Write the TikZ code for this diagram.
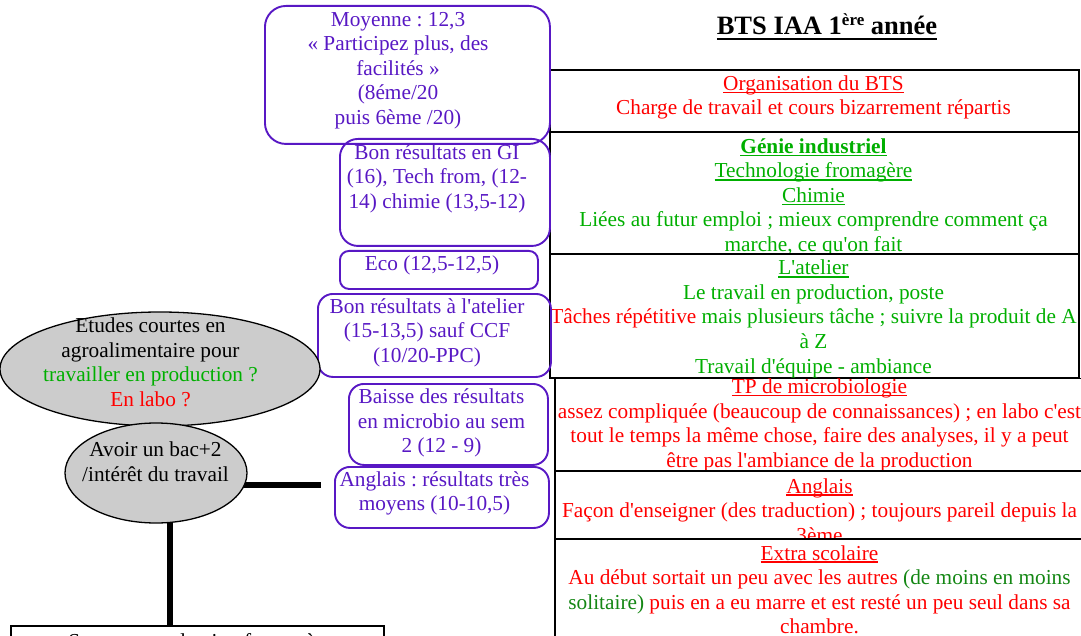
\documentclass[tikz,border=0pt]{standalone}
\usepackage{fontspec}
\usetikzlibrary{shapes.geometric}
\newfontfamily\tnr{Liberation Serif}
\definecolor{pur}{RGB}{88,24,196}
\definecolor{grn}{RGB}{0,175,0}
\definecolor{dgrn}{RGB}{20,135,20}
\definecolor{rd}{RGB}{255,0,0}
\definecolor{ellgray}{RGB}{204,204,204}
\newsavebox\ulbox
\newcommand\ulx[1]{\sbox\ulbox{#1}\rlap{\rule[-2.6pt]{\wd\ulbox}{1.3pt}}\usebox\ulbox}
\newcommand\ulxb[1]{\sbox\ulbox{#1}\rlap{\rule[-5.2pt]{\wd\ulbox}{1.8pt}}\usebox\ulbox}
\newcommand\ls[1]{\begin{tabular}[t]{@{}c@{}}#1\end{tabular}}
\pgfdeclarelayer{bg}
\pgfsetlayers{bg,main}
\tikzset{
  txt/.style={anchor=base, inner sep=0pt, yshift=-1.5pt, font=\tnr\frenchspacing\fontsize{21.3}{24.5}\selectfont},
  bbox/.style={draw=black, line width=1.6pt, fill=white, inner sep=0pt, anchor=north west},
  pbox/.style={draw=pur, line width=1.9pt, rounded corners=15pt, inner sep=0pt, anchor=north west},
  ellnode/.style={ellipse, draw=black, line width=1.3pt, fill=ellgray, inner sep=0pt},
  thickline/.style={line width=6.5pt}
}
\begin{document}
\begin{tikzpicture}[x=1pt,y=-1pt]
\useasboundingbox (0,0) rectangle (1081,636);
\clip (0,0) rectangle (1081,636);

% title
\node[txt, font=\tnr\bfseries\frenchspacing\fontsize{26.5}{30}\selectfont] (title) at (827,33.5)
  {\ulxb{BTS IAA 1\raisebox{9pt}{\fontsize{17}{17}\selectfont ère} année}};

% right column boxes
\node[bbox, minimum width=529pt, minimum height=62pt] (b1) at (549,69) {};
\node[txt, text=rd] (t1) at (813.5,89)
  {\ls{\ulx{Organisation du BTS}\\Charge de travail et cours bizarrement répartis}};
\node[bbox, minimum width=529pt, minimum height=122pt] (b2) at (549,131) {};
\node[txt, text=grn] (t2) at (813.5,152)
  {\ls{\ulx{\bfseries Génie industriel}\\\ulx{Technologie fromagère}\\\ulx{Chimie}\\Liées au futur emploi ; mieux comprendre comment ça\\marche, ce qu'on fait}};
\node[bbox, minimum width=529pt, minimum height=124pt] (b3) at (549,253) {};
\node[txt, text=grn] (t3) at (813.5,273.5)
  {\ls{\ulx{L'atelier}\\Le travail en production, poste\\\textcolor{rd}{Tâches répétitive} mais plusieurs tâche ; suivre la produit de A\\à Z\\Travail d'équipe - ambiance}};
\node[bbox, minimum width=532pt, minimum height=92.5pt] (b4) at (554,377.5) {};
\node[txt, text=rd] (t4) at (819.5,392)
  {\ls{\ulx{TP de microbiologie}\\assez compliquée (beaucoup de connaissances) ; en labo c'est\\tout le temps la même chose, faire des analyses, il y a peut\\être pas l'ambiance de la production}};
\node[bbox, minimum width=532pt, minimum height=68pt] (b5) at (554,470) {};
\node[txt, text=rd] (t5) at (819.5,491.5)
  {\ls{\ulx{Anglais}\\Façon d'enseigner (des traduction) ; toujours pareil depuis la\\3ème}};
\node[bbox, minimum width=532pt, minimum height=120pt] (b6) at (554,538) {};
\node[txt, text=rd] (t6) at (819.5,558.5)
  {\ls{\ulx{Extra scolaire}\\Au début sortait un peu avec les autres \textcolor{dgrn}{(de moins en moins}\\\textcolor{dgrn}{solitaire)} puis en a eu marre et est resté un peu seul dans sa\\chambre.}};

% purple boxes
\node[pbox, rounded corners=21pt, minimum width=285pt, minimum height=138pt] (p1) at (264,5) {};
\node[txt, text=pur] (q1) at (398,25)
  {\ls{Moyenne : 12,3\\« Participez plus, des\\facilités »\\(8éme/20\\puis 6ème /20)}};
\node[pbox, rounded corners=18pt, minimum width=210pt, minimum height=107pt] (p2) at (339,138) {};
\node[txt, text=pur] (q2) at (437,158)
  {\ls{Bon résultats en GI\\(16), Tech from, (12-\\14) chimie (13,5-12)}};
\node[pbox, rounded corners=9pt, minimum width=198pt, minimum height=38pt] (p3) at (339,250) {};
\node[txt, text=pur] (q3) at (432,269.5) {Eco (12,5-12,5)};
\node[pbox, minimum width=233pt, minimum height=83pt] (p4) at (317,293) {};
\node[txt, text=pur] (q4) at (427,311.5)
  {\ls{Bon résultats à l'atelier\\(15-13,5) sauf CCF\\(10/20-PPC)}};
\node[pbox, minimum width=199pt, minimum height=81pt] (p5) at (348,383) {};
\node[txt, text=pur] (q5) at (441.5,402)
  {\ls{Baisse des résultats\\en microbio au sem\\2 (12 - 9)}};
\node[pbox, minimum width=214pt, minimum height=61pt] (p6) at (334,466) {};
\node[txt, text=pur] (q6) at (434.5,484.5)
  {\ls{Anglais : résultats très\\moyens (10-10,5)}};

% ellipses
\node[ellnode, minimum width=320pt, minimum height=114pt] (E1) at (160,369) {};
\node[txt] (e1t) at (150.5,331)
  {\ls{Etudes courtes en\\agroalimentaire pour\\\textcolor{grn}{travailler en production ?}\\\textcolor{rd}{En labo ?}}};
\node[ellnode, minimum width=182pt, minimum height=100pt] (E2) at (156,473) {};
\node[txt] (e2t) at (155.5,455) {\ls{Avoir un bac+2\\/intérêt du travail}};

% bottom box
\node[bbox, minimum width=373pt, minimum height=60pt] (bot) at (10,625) {};
\node[txt] (bott) at (200,646.5) {Stage en production fromagère};

% connectors
\coordinate (h2) at (321,485);
\coordinate (v1) at (170,473);
\begin{pgfonlayer}{bg}
\draw[thickline] (E2.center |- h2) -- (h2);
\draw[thickline] (v1) -- (v1 |- bot.north);
\end{pgfonlayer}
\end{tikzpicture}
\end{document}
